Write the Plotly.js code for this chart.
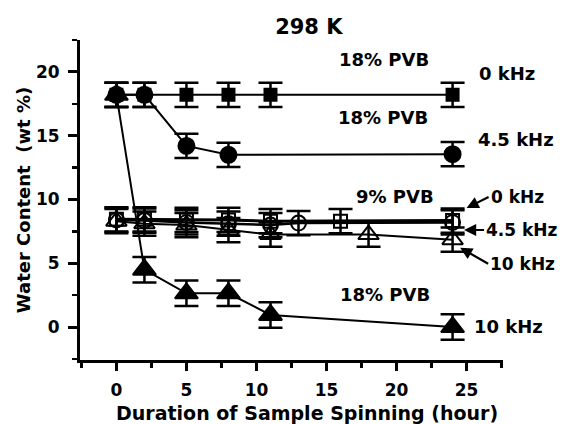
<!DOCTYPE html>
<html><head><meta charset="utf-8">
<script src="https://cdn.plot.ly/plotly-3.0.1.min.js"></script>
<style>html,body{margin:0;padding:0;background:#fff}#c{width:563px;height:424px}</style>
</head><body><div id="c"></div>
<script>
// 18% PVB
const x18_0 = [0, 2, 5, 8, 11, 24];
const y18_0 = [18.2, 18.2, 18.2, 18.2, 18.2, 18.2];
const e18_0 = [0.95, 0.95, 0.95, 0.95, 0.95, 0.95];
const x18_45 = [0, 2, 5, 8, 24];
const y18_45 = [18.2, 18.2, 14.2, 13.5, 13.55];
const e18_45 = [0.95, 0.95, 0.95, 0.95, 0.95];
const x18_10 = [0, 2, 5, 8, 11, 24];
const y18_10 = [18.2, 4.5, 2.65, 2.65, 0.95, 0.0];
const e18_10 = [0.95, 1.0, 1.0, 1.0, 1.0, 1.0];
// 9% PVB
const x9_0 = [0, 2, 5, 8, 11, 16, 24];
const y9_0 = [8.45, 8.45, 8.4, 8.4, 8.3, 8.3, 8.35];
const e9_0 = [0.95, 0.95, 0.95, 0.95, 0.95, 0.95, 0.95];
const x9_45 = [0, 2, 5, 8, 11, 13, 24];
const y9_45 = [8.4, 8.35, 8.2, 8.1, 8.0, 8.15, 8.2];
const e9_45 = [0.95, 0.95, 0.95, 0.95, 0.95, 0.95, 0.95];
const x9_10 = [0, 2, 5, 8, 11, 18, 24];
const y9_10 = [8.3, 8.1, 8.0, 7.6, 7.25, 7.25, 6.85];
const e9_10 = [0.95, 0.95, 0.95, 0.95, 0.95, 0.95, 0.95];

const xTicks = [0, 5, 10, 15, 20, 25];
const yTicks = [0, 5, 10, 15, 20];

function tr(x, y, e, sym, size, lw) {
  return {
    x: x, y: y, type: 'scatter', mode: 'lines+markers',
    line: {color: '#000', width: lw},
    marker: {symbol: sym, size: size, color: '#000', line: {color: '#000', width: 2}},
    error_y: {type: 'data', array: e, visible: true, color: '#000', thickness: 2.5, width: 12},
    showlegend: false, cliponaxis: false
  };
}

const data = [
  tr(x9_10, y9_10, e9_10, 'triangle-up-open', 18, 2),
  tr(x9_45, y9_45, e9_45, 'circle-open', 15, 2.5),
  tr(x9_0, y9_0, e9_0, 'square-open', 13, 3),
  tr(x18_0, y18_0, e18_0, 'square', 12, 2),
  tr(x18_45, y18_45, e18_45, 'circle', 16, 2),
  tr(x18_10, y18_10, e18_10, 'triangle-up', 20, 2)
];

const F = 'DejaVu Sans, sans-serif';
function ann(text, x, y, extra) {
  return Object.assign({text: '<b>' + text + '</b>', x: x, y: y, xref: 'x', yref: 'y',
    showarrow: false, font: {family: F, size: 18, color: '#000'}}, extra || {});
}
function arrowAnn(text, x, y, ax, ay) {
  return {text: '<b>' + text + '</b>', x: x, y: y, xref: 'x', yref: 'y', ax: ax, ay: ay,
    showarrow: true, arrowhead: 2, arrowsize: 1.1,
    arrowwidth: 2.2, arrowcolor: '#000', xanchor: 'left', standoff: 0, startstandoff: 0,
    font: {family: F, size: 17, color: '#000'}};
}

const layout = {
  width: 563, height: 424,
  margin: {l: 80, r: 60, t: 40, b: 64},
  paper_bgcolor: '#fff', plot_bgcolor: '#fff',
  title: {text: '<b>298 K</b>', xref: 'paper', x: 0.541, xanchor: 'center', yref: 'container', y: 0.936, yanchor: 'middle',
    font: {family: F, size: 21, color: '#000'}},
  xaxis: {
    range: [-2.6, 27.6], tickvals: xTicks, ticks: 'outside', ticklen: 8, tickwidth: 3,
    tickcolor: '#000', showline: true, linewidth: 3, linecolor: '#000', showgrid: false,
    zeroline: false, ticklabelstandoff: 5, tickfont: {family: F, size: 17, color: '#000', weight: 'bold'},
    minor: {dtick: 2.5, tick0: 0, ticks: 'outside', ticklen: 5, tickwidth: 2.5, tickcolor: '#000', showgrid: false}
  },
  yaxis: {
    range: [-2.58, 22.5], tickvals: yTicks, ticks: 'outside', ticklen: 9, tickwidth: 3,
    tickcolor: '#000', showline: true, linewidth: 3, linecolor: '#000', showgrid: false,
    zeroline: false, ticklabelstandoff: 5, tickfont: {family: F, size: 17, color: '#000', weight: 'bold'},
    minor: {dtick: 2.5, tick0: 0, ticks: 'outside', ticklen: 5, tickwidth: 2.5, tickcolor: '#000', showgrid: false},
    title: {text: '<b>Water Content\u00a0 (wt %)</b>', standoff: 1,
      font: {family: F, size: 18, color: '#000'}}
  },
  annotations: [
    {text: '<b>Duration of Sample Spinning (hour)</b>', xref: 'paper', yref: 'paper', x: 0.536, y: -0.165,
      xanchor: 'center', yanchor: 'middle', showarrow: false, font: {family: F, size: 19, color: '#000'}},
    ann('18% PVB', 19.1, 21.0),
    ann('0 kHz', 25.75, 19.85, {xanchor: 'left'}),
    ann('18% PVB', 19.05, 16.4),
    ann('4.5 kHz', 25.7, 14.67, {xanchor: 'left'}),
    ann('9% PVB', 19.9, 10.24),
    ann('18% PVB', 19.2, 2.54),
    ann('10 kHz', 25.4, 0.06, {xanchor: 'left'}),
    arrowAnn('0 kHz', 25.0, 9.33, 22, -11),
    arrowAnn('4.5 kHz', 24.82, 7.61, 20, 0),
    arrowAnn('10 kHz', 24.54, 6.22, 28, 16)
  ]
};

Plotly.newPlot('c', data, layout, {staticPlot: true, displayModeBar: false});
</script></body></html>
